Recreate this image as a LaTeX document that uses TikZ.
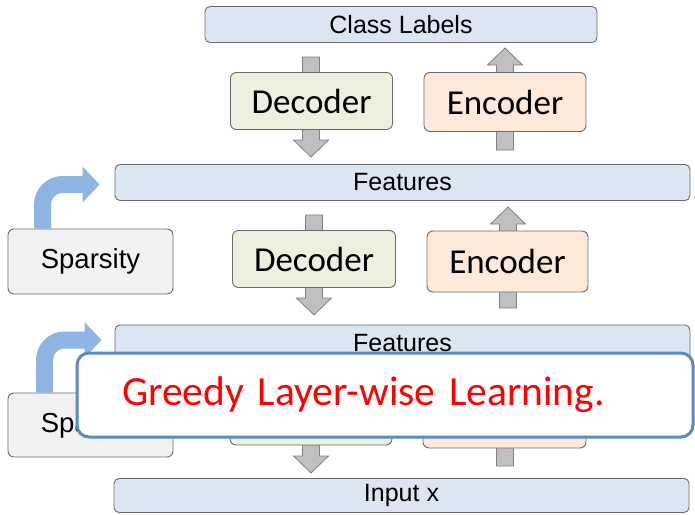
\documentclass[tikz,border=0pt]{standalone}
\usepackage{fontspec}
\setmainfont{Liberation Sans}
\newfontfamily\calibri{Carlito}
\usetikzlibrary{arrows.meta}

\definecolor{boxline}{HTML}{6A6A6A}
\definecolor{barblue}{HTML}{DCE6F2}
\definecolor{decgreen}{HTML}{EBF1DE}
\definecolor{encpeach}{HTML}{FDE9D9}
\definecolor{sparsegray}{HTML}{F2F2F2}
\definecolor{blkgray}{HTML}{BFBFBF}
\definecolor{blkline}{HTML}{808080}
\definecolor{sparseblue}{HTML}{8EB4E3}
\definecolor{noteblue}{HTML}{5B8BC5}

% block arrows: {x}{start}{tip}
\newcommand\blkdown[3]{\filldraw[blk] ({#1-8.5},#2) -- ({#1+8.5},#2) -- ({#1+8.5},{#3-17}) -- ({#1+17.5},{#3-17})
  -- (#1,#3) -- ({#1-17.5},{#3-17}) -- ({#1-8.5},{#3-17}) -- cycle;}
\newcommand\blkup[3]{\filldraw[blk] ({#1-8.5},#2) -- ({#1+8.5},#2) -- ({#1+8.5},{#3+17}) -- ({#1+17.5},{#3+17})
  -- (#1,#3) -- ({#1-17.5},{#3+17}) -- ({#1-8.5},{#3+17}) -- cycle;}

\begin{document}
\begin{tikzpicture}[x=1pt,y=-1pt,
  box/.style={draw=boxline, line width=0.9pt, rounded corners=6, inner sep=0},
  bar/.style={box, rounded corners=5, fill=barblue, minimum width=575, minimum height=36, font=\fontsize{25}{30}\selectfont},
  dec/.style={box, fill=decgreen, minimum width=162, minimum height=57, font=\calibri\fontsize{35}{40}\selectfont},
  enc/.style={box, fill=encpeach, minimum width=162, minimum height=59, font=\calibri\fontsize{35}{40}\selectfont},
  sparse/.style={box, fill=sparsegray, minimum width=165, minimum height=65, font=\fontsize{27.5}{32}\selectfont},
  blk/.style={draw=blkline, line width=0.8pt, fill=blkgray},
  feed/.style={draw=sparseblue, line width=17pt, rounded corners=20, -{Triangle[length=17pt,width=35pt]}},
]
\useasboundingbox (0,0) rectangle (695,514);

% gray block arrows behind the boxes
\blkdown{311}{57}{157}
\blkup{505}{150}{48}
\blkdown{314}{215}{315}
\blkup{508}{308}{207}
\blkdown{311}{373}{473}
\blkup{505}{466}{365}

% layers
\node[bar, minimum width=392] (cls) at (401,24.5) {Class Labels};
\node[dec] (dec1) at (311.5,101) {Decoder};
\node[enc] (enc1) at (505,102) {Encoder};
\node[bar] (feat1) at (402.5,182.5) {Features};
\node[sparse] (spar1) at (90.5,261.5) {Sparsity};
\node[dec, minimum width=163] (dec2) at (314,259) {Decoder};
\node[enc, minimum width=161, minimum height=61] (enc2) at (507.5,261.5) {Encoder};
\node[bar] (feat2) at (402.5,343) {Features};
\node[sparse, minimum height=64] (spar2) at (90.5,425) {Sparsity};
\node[dec, minimum height=58] (dec3) at (311,416) {};
\node[enc, minimum width=163, minimum height=60] (enc3) at (504.5,418) {};
\node[bar, minimum height=34] (inp) at (401.5,495.5) {Input x};

% sparsity feeding the features
\draw[feed] ([xshift=35]spar1.north west) |- ([xshift=-15,yshift=-2]feat1.west);
\draw[feed] ([xshift=37]spar2.north west) |- ([xshift=-13,yshift=3]feat2.west);

% note on top
\node[draw=noteblue, line width=3pt, fill=white, rounded corners=12, inner sep=0, inner xsep=45,
  text width=526, minimum height=84, align=left, text=red, font=\calibri\fontsize{41.5}{46}\selectfont]
  (note) at (385,395) {Greedy Layer-wise Learning.};
\end{tikzpicture}
\end{document}
